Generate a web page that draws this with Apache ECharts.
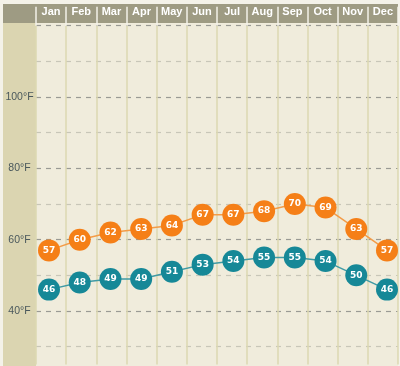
<!DOCTYPE html>
<html>
<head>
<meta charset="utf-8">
<script src="https://cdn.jsdelivr.net/npm/echarts@6/dist/echarts.min.js"></script>
<style>
html,body{margin:0;padding:0;background:#f4f2e9;}
#c{width:400px;height:366px;}
</style>
</head>
<body>
<div id="c"></div>
<script>
const months = ['Jan','Feb','Mar','Apr','May','Jun','Jul','Aug','Sep','Oct','Nov','Dec'];
const highs = [57,60,62,63,64,67,67,68,70,69,63,57];
const lows = [46,48,49,49,51,53,54,55,55,54,50,46];
const yTickLabels = {40:'40°F', 60:'60°F', 80:'80°F', 100:'100°F'};

const chart = echarts.init(document.getElementById('c'), null, {renderer:'canvas'});

function pts(arr){ return arr.map((v,i)=>[i,v]); }

const labelStyle = {show:true, position:'inside', color:'#ffffff', fontWeight:'bold',
  fontFamily:'DejaVu Sans', fontSize:9};

chart.setOption({
  backgroundColor:'#f4f2e9',
  animation:false,
  graphic:{elements:[
    {type:'rect', z:-10, shape:{x:3,y:4,width:395,height:19}, style:{fill:'#9e9b83'}},
    {type:'rect', z:-10, shape:{x:3,y:23,width:33,height:343}, style:{fill:'#dbd5b1'}},
    {type:'rect', z:-10, shape:{x:36,y:23,width:362,height:343}, style:{fill:'#f0ecdc'}}
  ]},
  grid:{left:36, right:2, top:25.7, bottom:1.5},
  xAxis:[
    {type:'category', data:months, position:'top', boundaryGap:true,
     axisLine:{show:false},
     axisTick:{show:true, inside:false, length:19, lineStyle:{color:'#f4f2e9', width:1.5}},
     axisLabel:{color:'#ffffff', fontWeight:'bold', fontSize:11, fontFamily:'Liberation Sans', margin:8},
     splitLine:{show:true, lineStyle:{color:'#dcd8b2', width:1.5}}
    },
    {type:'value', min:-0.423, max:11.358, show:false, splitLine:{show:false}}
  ],
  yAxis:{type:'value', min:25, max:120, interval:5,
    axisLine:{show:false}, axisTick:{show:false},
    axisLabel:{margin:16.5, align:'center', color:'#4a585c', fontSize:10.5, fontFamily:'Liberation Sans',
      formatter:v=>yTickLabels[v]||''},
    splitLine:{show:true, lineStyle:{type:[5,5], width:1.2,
      color:['rgba(0,0,0,0)','#c8c6b8','rgba(0,0,0,0)','#9a9a94']}}
  },
  series:[
    {type:'line', xAxisIndex:1, data:pts(highs), symbol:'circle', symbolSize:22,
     itemStyle:{color:'#f57f17'}, lineStyle:{color:'#f39c48', width:1.5},
     label:Object.assign({}, labelStyle, {formatter:p=>p.value[1]}), z:3},
    {type:'line', xAxisIndex:1, data:pts(lows), symbol:'circle', symbolSize:22,
     itemStyle:{color:'#168897'}, lineStyle:{color:'#3f9aa4', width:1.5},
     label:Object.assign({}, labelStyle, {formatter:p=>p.value[1]}), z:3}
  ]
});
</script>
</body>
</html>
